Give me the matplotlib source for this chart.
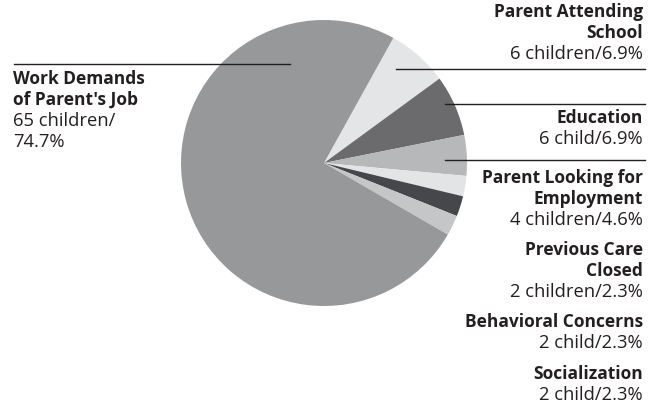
import matplotlib.pyplot as plt

plt.rcParams['font.family'] = ['Open Sans', 'DejaVu Sans']

# DATA (clockwise from the top right)
reasons = ['Parent Attending\nSchool', 'Education', 'Parent Looking for\nEmployment',
           'Previous Care\nClosed', 'Behavioral Concerns', 'Socialization',
           "Work Demands\nof Parent's Job"]
counts = [6, 6, 4, 2, 2, 2, 65]
percents = [6.9, 6.9, 4.6, 2.3, 2.3, 2.3, 74.7]
units = ['children', 'child', 'children', 'children', 'child', 'child', 'children']
colors = ['#e4e5e6', '#6b6b6e', '#b7b8ba', '#e3e4e5', '#46474a', '#c5c6c8', '#97989a']

W, H = 659, 407
fig = plt.figure(figsize=(W / 100, H / 100), dpi=100)
ax = fig.add_axes([0, 0, 1, 1])

ax.pie(counts, colors=colors, startangle=61, counterclock=False,
       center=(324, H - 163), radius=143, wedgeprops=dict(linewidth=0))
ax.set_xlim(0, W)
ax.set_ylim(0, H)
ax.set_aspect('equal')
ax.axis('off')

FS_BOLD = 12.5
FS_REG = 13.2
txt = '#231f20'

def label(x, y_top, ha, name, value):
    y = y_top
    for line in name.split('\n'):
        ax.text(x, H - y, line, ha=ha, va='center', fontsize=FS_BOLD, fontweight='bold', color=txt)
        y += 21
    for line in value.split('\n'):
        ax.text(x, H - y, line, ha=ha, va='center', fontsize=FS_REG, color=txt)
        y += 21

# right hand labels
tops = [12, 118, 178, 250, 322, 374]
for i, yt in enumerate(tops):
    label(643, yt, 'right', reasons[i], f'{counts[i]} {units[i]}/{percents[i]}%')

# left label (value wrapped onto two lines)
label(13, 79, 'left', reasons[6], f'{counts[6]} {units[6]}/\n{percents[6]}%')

# leader lines
lw = 1.0
ax.plot([396, 645], [H - 69, H - 69], color=txt, lw=lw)
ax.plot([445, 645], [H - 104, H - 104], color=txt, lw=lw)
ax.plot([445, 645], [H - 160, H - 160], color=txt, lw=lw)
ax.plot([14, 290], [H - 64, H - 64], color=txt, lw=lw)

fig.savefig('out.png', dpi=100)
